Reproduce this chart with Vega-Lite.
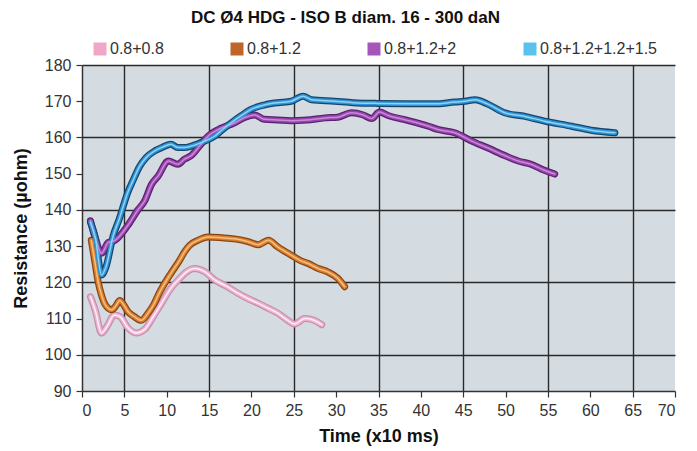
{
  "$schema": "https://vega.github.io/schema/vega-lite/v6.json",
  "autosize": {"type": "none"},
  "padding": {"left": 82, "top": 65, "right": 22, "bottom": 60},
  "width": 593,
  "height": 326,
  "background": "white",
  "title": {
    "text": "DC Ø4 HDG - ISO B diam. 16 - 300 daN",
    "font": "Liberation Sans Narrow, Liberation Sans, Arial",
    "fontSize": 17,
    "fontWeight": "bold",
    "color": "#111",
    "anchor": "middle",
    "dx": -33,
    "offset": 14
  },
  "config": {
    "view": {"fill": "#d5dce1", "stroke": null},
    "font": "Liberation Sans Narrow, Liberation Sans, Arial",
    "axis": {
      "labelFont": "Liberation Sans Narrow, Liberation Sans, Arial",
      "labelFontSize": 16,
      "labelColor": "#333",
      "titleFont": "Liberation Sans Narrow, Liberation Sans, Arial",
      "titleFontSize": 18,
      "titleFontWeight": "bold",
      "titleColor": "#111",
      "domainColor": "#333",
      "domainWidth": 1.5,
      "tickColor": "#333",
      "tickWidth": 1.2,
      "tickSize": 6,
      "gridColor": "#2a2a2a",
      "gridWidth": 1.4
    },
    "legend": {
      "labelFont": "Liberation Sans Narrow, Liberation Sans, Arial",
      "labelFontSize": 16,
      "labelColor": "#333"
    }
  },
  "data": {
    "values": [
      {"s": "0.8+0.8", "t": 1.0, "r": 116},
      {"s": "0.8+0.8", "t": 1.6, "r": 112},
      {"s": "0.8+0.8", "t": 2.3, "r": 106},
      {"s": "0.8+0.8", "t": 3.0, "r": 108},
      {"s": "0.8+0.8", "t": 3.8, "r": 111},
      {"s": "0.8+0.8", "t": 4.5, "r": 110.5},
      {"s": "0.8+0.8", "t": 5.4, "r": 107.5},
      {"s": "0.8+0.8", "t": 6.4, "r": 106},
      {"s": "0.8+0.8", "t": 7.4, "r": 107},
      {"s": "0.8+0.8", "t": 8.4, "r": 110.5},
      {"s": "0.8+0.8", "t": 9.2, "r": 113.5},
      {"s": "0.8+0.8", "t": 10.5, "r": 118.4},
      {"s": "0.8+0.8", "t": 11.5, "r": 121},
      {"s": "0.8+0.8", "t": 12.3, "r": 122.8},
      {"s": "0.8+0.8", "t": 13.3, "r": 123.8},
      {"s": "0.8+0.8", "t": 14.5, "r": 122.9},
      {"s": "0.8+0.8", "t": 15.7, "r": 120.6},
      {"s": "0.8+0.8", "t": 17.0, "r": 119},
      {"s": "0.8+0.8", "t": 18.4, "r": 117},
      {"s": "0.8+0.8", "t": 19.6, "r": 115.5},
      {"s": "0.8+0.8", "t": 20.8, "r": 114.2},
      {"s": "0.8+0.8", "t": 22.0, "r": 112.8},
      {"s": "0.8+0.8", "t": 23.1, "r": 111.5},
      {"s": "0.8+0.8", "t": 24.0, "r": 110},
      {"s": "0.8+0.8", "t": 25.1, "r": 108.5},
      {"s": "0.8+0.8", "t": 26.3, "r": 110},
      {"s": "0.8+0.8", "t": 27.3, "r": 109.6},
      {"s": "0.8+0.8", "t": 28.3, "r": 108.3},

      {"s": "0.8+1.2", "t": 1.1, "r": 131.6},
      {"s": "0.8+1.2", "t": 1.5, "r": 126},
      {"s": "0.8+1.2", "t": 1.9, "r": 120.2},
      {"s": "0.8+1.2", "t": 2.3, "r": 116.5},
      {"s": "0.8+1.2", "t": 2.7, "r": 114},
      {"s": "0.8+1.2", "t": 3.5, "r": 112.4},
      {"s": "0.8+1.2", "t": 4.0, "r": 113.5},
      {"s": "0.8+1.2", "t": 4.45, "r": 115},
      {"s": "0.8+1.2", "t": 5.0, "r": 113.5},
      {"s": "0.8+1.2", "t": 5.4, "r": 112},
      {"s": "0.8+1.2", "t": 6.2, "r": 110.5},
      {"s": "0.8+1.2", "t": 7.0, "r": 109.5},
      {"s": "0.8+1.2", "t": 7.8, "r": 111.5},
      {"s": "0.8+1.2", "t": 8.5, "r": 114},
      {"s": "0.8+1.2", "t": 9.0, "r": 116.5},
      {"s": "0.8+1.2", "t": 10.5, "r": 122.5},
      {"s": "0.8+1.2", "t": 11.5, "r": 126},
      {"s": "0.8+1.2", "t": 12.1, "r": 128.4},
      {"s": "0.8+1.2", "t": 12.7, "r": 130.2},
      {"s": "0.8+1.2", "t": 13.7, "r": 131.6},
      {"s": "0.8+1.2", "t": 14.9, "r": 132.5},
      {"s": "0.8+1.2", "t": 16.5, "r": 132.3},
      {"s": "0.8+1.2", "t": 18.0, "r": 132},
      {"s": "0.8+1.2", "t": 19.5, "r": 131.3},
      {"s": "0.8+1.2", "t": 20.8, "r": 130.4},
      {"s": "0.8+1.2", "t": 22.0, "r": 131.6},
      {"s": "0.8+1.2", "t": 23.1, "r": 129.8},
      {"s": "0.8+1.2", "t": 24.7, "r": 127.5},
      {"s": "0.8+1.2", "t": 25.8, "r": 126},
      {"s": "0.8+1.2", "t": 26.7, "r": 125.2},
      {"s": "0.8+1.2", "t": 27.9, "r": 123.8},
      {"s": "0.8+1.2", "t": 29.0, "r": 122.9},
      {"s": "0.8+1.2", "t": 30.2, "r": 121.1},
      {"s": "0.8+1.2", "t": 31.0, "r": 118.8},

      {"s": "0.8+1.2+2", "t": 1.0, "r": 137},
      {"s": "0.8+1.2+2", "t": 1.6, "r": 132},
      {"s": "0.8+1.2+2", "t": 2.3, "r": 128},
      {"s": "0.8+1.2+2", "t": 3.1, "r": 131},
      {"s": "0.8+1.2+2", "t": 3.9, "r": 131.6},
      {"s": "0.8+1.2+2", "t": 5.4, "r": 135.7},
      {"s": "0.8+1.2+2", "t": 6.6, "r": 140},
      {"s": "0.8+1.2+2", "t": 7.4, "r": 142.5},
      {"s": "0.8+1.2+2", "t": 8.2, "r": 147},
      {"s": "0.8+1.2+2", "t": 9.0, "r": 149.4},
      {"s": "0.8+1.2+2", "t": 10.2, "r": 153.5},
      {"s": "0.8+1.2+2", "t": 11.3, "r": 152.6},
      {"s": "0.8+1.2+2", "t": 12.1, "r": 154},
      {"s": "0.8+1.2+2", "t": 12.9, "r": 155},
      {"s": "0.8+1.2+2", "t": 14.0, "r": 158},
      {"s": "0.8+1.2+2", "t": 14.9, "r": 160.4},
      {"s": "0.8+1.2+2", "t": 16.1, "r": 162.2},
      {"s": "0.8+1.2+2", "t": 18.0, "r": 164},
      {"s": "0.8+1.2+2", "t": 19.2, "r": 165.5},
      {"s": "0.8+1.2+2", "t": 20.4, "r": 166.2},
      {"s": "0.8+1.2+2", "t": 21.5, "r": 165},
      {"s": "0.8+1.2+2", "t": 23.1, "r": 164.8},
      {"s": "0.8+1.2+2", "t": 24.7, "r": 164.6},
      {"s": "0.8+1.2+2", "t": 26.5, "r": 164.8},
      {"s": "0.8+1.2+2", "t": 28.7, "r": 165.4},
      {"s": "0.8+1.2+2", "t": 30.2, "r": 165.6},
      {"s": "0.8+1.2+2", "t": 31.8, "r": 166.8},
      {"s": "0.8+1.2+2", "t": 33.2, "r": 166.2},
      {"s": "0.8+1.2+2", "t": 34.2, "r": 165.2},
      {"s": "0.8+1.2+2", "t": 35.1, "r": 167},
      {"s": "0.8+1.2+2", "t": 36.2, "r": 166},
      {"s": "0.8+1.2+2", "t": 38.1, "r": 164.9},
      {"s": "0.8+1.2+2", "t": 40.9, "r": 163.1},
      {"s": "0.8+1.2+2", "t": 42.0, "r": 162.2},
      {"s": "0.8+1.2+2", "t": 44.0, "r": 161.3},
      {"s": "0.8+1.2+2", "t": 46.0, "r": 159},
      {"s": "0.8+1.2+2", "t": 48.0, "r": 157},
      {"s": "0.8+1.2+2", "t": 49.9, "r": 155},
      {"s": "0.8+1.2+2", "t": 51.5, "r": 153.5},
      {"s": "0.8+1.2+2", "t": 53.0, "r": 152.6},
      {"s": "0.8+1.2+2", "t": 54.5, "r": 151},
      {"s": "0.8+1.2+2", "t": 55.8, "r": 149.9},

      {"s": "0.8+1.2+1.2+1.5", "t": 1.0, "r": 136.6},
      {"s": "0.8+1.2+1.2+1.5", "t": 1.6, "r": 132},
      {"s": "0.8+1.2+1.2+1.5", "t": 2.3, "r": 122},
      {"s": "0.8+1.2+1.2+1.5", "t": 2.8, "r": 124},
      {"s": "0.8+1.2+1.2+1.5", "t": 3.7, "r": 133},
      {"s": "0.8+1.2+1.2+1.5", "t": 4.4, "r": 137.5},
      {"s": "0.8+1.2+1.2+1.5", "t": 5.0, "r": 142},
      {"s": "0.8+1.2+1.2+1.5", "t": 5.4, "r": 144.8},
      {"s": "0.8+1.2+1.2+1.5", "t": 6.0, "r": 148},
      {"s": "0.8+1.2+1.2+1.5", "t": 6.8, "r": 152},
      {"s": "0.8+1.2+1.2+1.5", "t": 7.6, "r": 154.5},
      {"s": "0.8+1.2+1.2+1.5", "t": 8.6, "r": 156.3},
      {"s": "0.8+1.2+1.2+1.5", "t": 9.5, "r": 157.3},
      {"s": "0.8+1.2+1.2+1.5", "t": 10.5, "r": 158.1},
      {"s": "0.8+1.2+1.2+1.5", "t": 11.3, "r": 157.2},
      {"s": "0.8+1.2+1.2+1.5", "t": 12.1, "r": 157.2},
      {"s": "0.8+1.2+1.2+1.5", "t": 12.9, "r": 157.6},
      {"s": "0.8+1.2+1.2+1.5", "t": 14.5, "r": 159},
      {"s": "0.8+1.2+1.2+1.5", "t": 15.7, "r": 160.4},
      {"s": "0.8+1.2+1.2+1.5", "t": 16.6, "r": 162.2},
      {"s": "0.8+1.2+1.2+1.5", "t": 17.6, "r": 164},
      {"s": "0.8+1.2+1.2+1.5", "t": 18.8, "r": 166},
      {"s": "0.8+1.2+1.2+1.5", "t": 19.9, "r": 167.7},
      {"s": "0.8+1.2+1.2+1.5", "t": 21.6, "r": 169},
      {"s": "0.8+1.2+1.2+1.5", "t": 23.1, "r": 169.6},
      {"s": "0.8+1.2+1.2+1.5", "t": 24.7, "r": 170},
      {"s": "0.8+1.2+1.2+1.5", "t": 26.1, "r": 171.4},
      {"s": "0.8+1.2+1.2+1.5", "t": 27.1, "r": 170.4},
      {"s": "0.8+1.2+1.2+1.5", "t": 29.8, "r": 170},
      {"s": "0.8+1.2+1.2+1.5", "t": 32.0, "r": 169.6},
      {"s": "0.8+1.2+1.2+1.5", "t": 34.9, "r": 169.4},
      {"s": "0.8+1.2+1.2+1.5", "t": 39.7, "r": 169.3},
      {"s": "0.8+1.2+1.2+1.5", "t": 42.0, "r": 169.3},
      {"s": "0.8+1.2+1.2+1.5", "t": 44.0, "r": 169.8},
      {"s": "0.8+1.2+1.2+1.5", "t": 45.2, "r": 170},
      {"s": "0.8+1.2+1.2+1.5", "t": 46.4, "r": 170.4},
      {"s": "0.8+1.2+1.2+1.5", "t": 47.9, "r": 169.2},
      {"s": "0.8+1.2+1.2+1.5", "t": 49.9, "r": 166.8},
      {"s": "0.8+1.2+1.2+1.5", "t": 52.3, "r": 165.8},
      {"s": "0.8+1.2+1.2+1.5", "t": 54.6, "r": 164.5},
      {"s": "0.8+1.2+1.2+1.5", "t": 57.8, "r": 163.1},
      {"s": "0.8+1.2+1.2+1.5", "t": 60.1, "r": 162},
      {"s": "0.8+1.2+1.2+1.5", "t": 62.9, "r": 161.3}
    ]
  },
  "encoding": {
    "x": {
      "field": "t",
      "type": "quantitative",
      "title": "Time (x10 ms)",
      "scale": {"domain": [0, 70], "nice": false},
      "axis": {
        "values": [0, 5, 10, 15, 20, 25, 30, 35, 40, 45, 50, 55, 60, 65, 70],
        "grid": true,
        "gridOpacity": {"condition": {"test": "datum.value % 10 === 5", "value": 1}, "value": 0},
        "labelPadding": 5,
        "titlePadding": 9
      }
    },
    "y": {
      "field": "r",
      "type": "quantitative",
      "title": "Resistance (µohm)",
      "scale": {"domain": [90, 180], "nice": false, "zero": false},
      "axis": {
        "values": [90, 100, 110, 120, 130, 140, 150, 160, 170, 180],
        "grid": true,
        "gridOpacity": {"condition": {"test": "datum.value % 20 === 0", "value": 1}, "value": 0},
        "labelPadding": 5,
        "titlePadding": 14
      }
    }
  },
  "layer": [
    {
      "mark": {"type": "line", "strokeWidth": 7, "strokeCap": "round", "strokeJoin": "round", "interpolate": "monotone"},
      "encoding": {
        "order": {"field": "t", "type": "quantitative"},
        "color": {
          "field": "s",
          "type": "nominal",
          "legend": null,
          "scale": {
            "domain": ["0.8+0.8", "0.8+1.2", "0.8+1.2+2", "0.8+1.2+1.2+1.5"],
            "range": ["#c58fae", "#8a4514", "#5a2270", "#17456e"]
          }
        }
      }
    },
    {
      "mark": {"type": "line", "strokeWidth": 4.5, "strokeCap": "round", "strokeJoin": "round", "interpolate": "monotone"},
      "encoding": {
        "order": {"field": "t", "type": "quantitative"},
        "color": {
          "field": "s",
          "type": "nominal",
          "legend": null,
          "scale": {
            "domain": ["0.8+0.8", "0.8+1.2", "0.8+1.2+2", "0.8+1.2+1.2+1.5"],
            "range": ["#eeb3d2", "#d9802f", "#9846ad", "#2f94d6"]
          }
        }
      }
    },
    {
      "mark": {"type": "line", "strokeWidth": 1.5, "strokeCap": "round", "strokeJoin": "round", "interpolate": "monotone"},
      "encoding": {
        "order": {"field": "t", "type": "quantitative"},
        "color": {
          "field": "s",
          "type": "nominal",
          "legend": null,
          "scale": {
            "domain": ["0.8+0.8", "0.8+1.2", "0.8+1.2+2", "0.8+1.2+1.2+1.5"],
            "range": ["#fdeef6", "#f5bd80", "#c98ad8", "#8fd3f5"]
          }
        }
      }
    },
    {
      "transform": [{"filter": "datum.t < 0"}],
      "mark": {"type": "square", "filled": true},
      "encoding": {
        "color": {
          "field": "s",
          "type": "nominal",
          "scale": {
            "domain": ["0.8+0.8", "0.8+1.2", "0.8+1.2+2", "0.8+1.2+1.2+1.5"],
            "range": ["#f0a6c8", "#c0652a", "#a556b8", "#5ac2ec"]
          },
          "legend": {
            "title": null,
            "orient": "none",
            "direction": "horizontal",
            "legendX": 10,
            "legendY": -24,
            "symbolType": "square",
            "symbolSize": 169,
            "symbolOpacity": 1,
            "symbolStrokeWidth": 0,
            "labelOffset": 2,
            "columnPadding": 65
          }
        }
      }
    }
  ],
  "resolve": {"scale": {"color": "independent"}}
}
